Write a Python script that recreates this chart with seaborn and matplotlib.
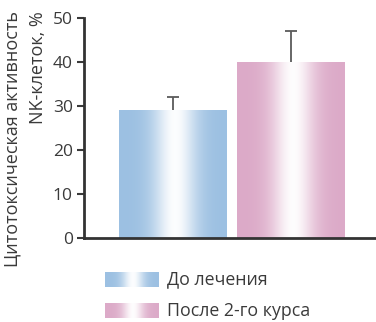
import numpy as np
import pandas as pd
import matplotlib
matplotlib.use("Agg")
import matplotlib.pyplot as plt
import seaborn as sns

# данные
groups = ["До лечения", "После 2-го курса"]
values = [29, 40]
err_up = [3, 7]
colors = ["#9cc0e2", "#dcaac8"]
ylabel = "Цитотоксическая активность\nNK-клеток, %"

sns.set_style("white")
plt.rcParams['font.family'] = ['Open Sans', 'DejaVu Sans']
txt_col = "#3a3a3a"


def gradient(color, n=200):
    rgb = np.array(matplotlib.colors.to_rgb(color))
    t = np.linspace(0, 1, n)
    w = 0.97 * np.exp(-((t - 0.52) / 0.2) ** 2)
    arr = rgb[None, :] * (1 - w[:, None]) + w[:, None]
    return arr[None, :, :]


fig = plt.figure(figsize=(3.76, 3.22), dpi=100)
ax = fig.add_axes([84 / 376, 84 / 322, 292 / 376, 220 / 322])

df = pd.DataFrame({"group": groups, "value": values})
sns.barplot(data=df, x="group", y="value", hue="group", palette=colors,
            width=0.907, ax=ax, legend=False, errorbar=None)

# градиентная заливка столбцов
for patch, c in zip(ax.patches, colors):
    x0, y0 = patch.get_x(), patch.get_y()
    w, h = patch.get_width(), patch.get_height()
    im = ax.imshow(gradient(c), extent=[x0, x0 + w, y0, y0 + h],
                   aspect='auto', zorder=2)
    im.set_clip_path(patch)

# планки погрешностей (только вверх, в виде «Т»)
xs = np.arange(len(values))
tops = np.array(values) + np.array(err_up)
ax.vlines(xs, values, tops, color='#5a5a5a', lw=1.3, zorder=3)
ax.hlines(tops, xs - 0.05, xs + 0.05, color='#5a5a5a', lw=1.3, zorder=3)

ax.set_xlim(-0.75, 1.72)
ax.set_ylim(0, 50)
ax.set_yticks([0, 10, 20, 30, 40, 50])
ax.set_xticks([])
ax.set_xlabel("")
ax.set_ylabel("")
ax.tick_params(axis='y', labelsize=12.5, colors=txt_col, length=5,
               width=1.5, left=True, pad=3)
for s in ['top', 'right']:
    ax.spines[s].set_visible(False)
for s in ['left', 'bottom']:
    ax.spines[s].set_color('#333333')
    ax.spines[s].set_linewidth(2)
ax.patch.set_alpha(0)

fig.text(25 / 376, 1 - 11 / 322, ylabel, rotation=90, fontsize=13,
         color=txt_col, ha='center', va='top', multialignment='right',
         linespacing=1.55)

# легенда
for i, (g, c) in enumerate(zip(groups, colors)):
    yc = 279.5 + i * 31
    lax = fig.add_axes([105 / 376, (322 - yc - 7.5) / 322, 53 / 376, 15 / 322])
    lax.imshow(gradient(c), aspect='auto', extent=[0, 1, 0, 1])
    lax.axis('off')
    fig.text(167 / 376, (322 - yc) / 322, g, fontsize=12.8, color=txt_col,
             va='center', ha='left')

fig.savefig("out.png", dpi=100)
